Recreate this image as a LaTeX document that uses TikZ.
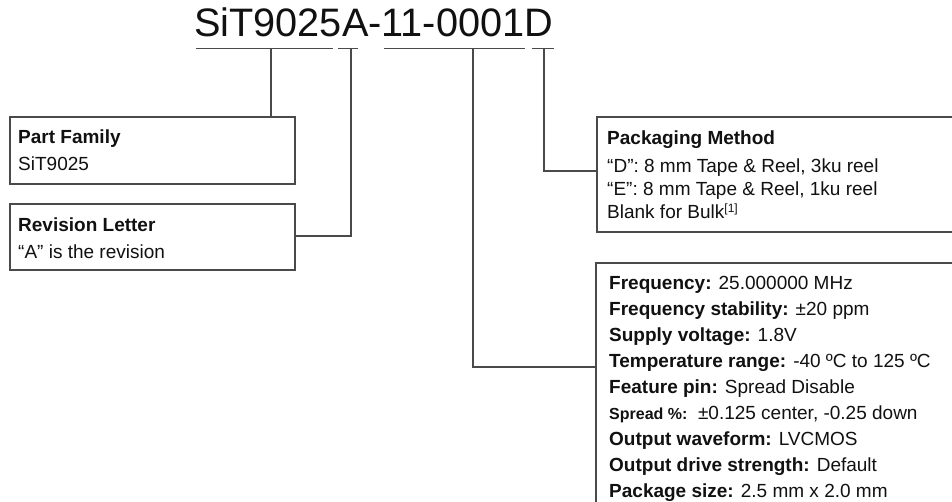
\documentclass[tikz,border=0pt]{standalone}
\usepackage{fontspec}
\setmainfont{Liberation Sans}
\definecolor{linegray}{HTML}{4A4A4A}
\definecolor{txtc}{HTML}{111111}
\begin{document}
\begin{tikzpicture}[x=1pt,y=-1pt,
  box/.style={draw=linegray, line width=1.1pt, anchor=north west, inner sep=0pt, outer sep=0pt},
  conn/.style={draw=linegray, line width=1.1pt},
  txt/.style={anchor=base west, inner sep=0pt, text=txtc, font=\fontsize{19}{22}\selectfont},
  title/.style={anchor=base west, inner sep=0pt, text=txtc, font=\fontsize{39.7}{44}\selectfont}]
\useasboundingbox (0,0) rectangle (952,501);
\clip (0,0) rectangle (952,501);
\fill[white] (0,0) rectangle (952,501);
% title
\node[title] (ttl) at (194,36) {SiT9025A-11-0001D};
% underline coordinates
\coordinate (u1a) at (196,48.5); \coordinate (u1b) at (333,48.5); \coordinate (u1c) at (271,48.5);
\coordinate (u2a) at (338,48.5); \coordinate (u2b) at (358,48.5); \coordinate (u2c) at (351,48.5);
\coordinate (u3a) at (384,48.5); \coordinate (u3b) at (525,48.5); \coordinate (u3c) at (473,48.5);
\coordinate (u4a) at (532,48.5); \coordinate (u4b) at (554,48.5); \coordinate (u4c) at (544,48.5);
\draw[conn] (u1a) -- (u1b);
\draw[conn] (u2a) -- (u2b);
\draw[conn] (u3a) -- (u3b);
\draw[conn] (u4a) -- (u4b);
% boxes
\node[box, minimum width=285pt, minimum height=67pt] (pf) at (10,117) {};
\node[box, minimum width=285pt, minimum height=66pt] (rl) at (10,204) {};
\node[box, minimum width=380pt, minimum height=115pt] (pm) at (597,117) {};
\node[box, minimum width=380pt, minimum height=270pt] (fe) at (596,263) {};
% connectors
\draw[conn] (u1c) -- (u1c |- pf.north);
\draw[conn] (u2c) |- ([yshift=1pt]rl.east);
\draw[conn] (u4c) |- ([yshift=3.5pt]pm.west);
\draw[conn] (u3c) |- ([yshift=-104pt]fe.north west);
% texts
\node[txt] (pf1) at (18,143) {\bfseries Part Family};
\node[txt] (pf2) at (18,170) {SiT9025};
\node[txt] (rl1) at (18,231) {\bfseries Revision Letter};
\node[txt] (rl2) at (18,258) {“A” is the revision};
\node[txt] (pm1) at (607,144) {\bfseries Packaging Method};
\node[txt] (pm2) at (607,172) {“D”: 8 mm Tape \& Reel, 3ku reel};
\node[txt] (pm3) at (607,195.5) {“E”: 8 mm Tape \& Reel, 1ku reel};
\node[txt] (pm4) at (607,218.5) {Blank for Bulk\textsuperscript{\fontsize{12}{12}\selectfont[1]}};
\node[txt] (f1) at (609,289) {\textbf{Frequency:} 25.000000 MHz};
\node[txt] (f2) at (609,315.1) {\textbf{Frequency stability:} ±20 ppm};
\node[txt] (f3) at (609,341.2) {\textbf{Supply voltage:} 1.8V};
\node[txt] (f4) at (609,367.3) {\textbf{Temperature range:} -40 ºC to 125 ºC};
\node[txt] (f5) at (609,393.4) {\textbf{Feature pin:} Spread Disable};
\node[txt] (f6) at (609,419.5) {{\fontsize{16}{16}\selectfont\bfseries Spread \%:}\ \ ±0.125 center, -0.25 down};
\node[txt] (f7) at (609,445.6) {\textbf{Output waveform:} LVCMOS};
\node[txt] (f8) at (609,471.7) {\textbf{Output drive strength:} Default};
\node[txt] (f9) at (609,497.8) {\textbf{Package size:} 2.5 mm x 2.0 mm};
\end{tikzpicture}
\end{document}
